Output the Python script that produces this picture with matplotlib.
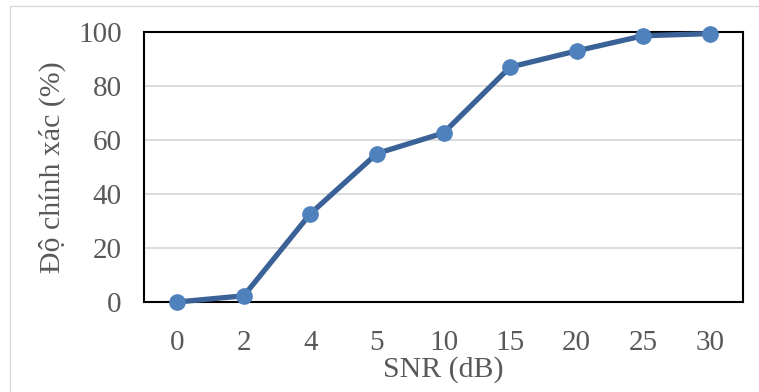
import matplotlib.pyplot as plt
from matplotlib.patches import Rectangle

# SNR levels (dB) and recognition accuracy (%)
snr_labels = ['0', '2', '4', '5', '10', '15', '20', '25', '30']
accuracy = [0.0, 2.3, 32.7, 55.0, 62.6, 87.0, 93.0, 98.6, 99.4]
y_ticks = [0, 20, 40, 60, 80, 100]

plt.rcParams['font.family'] = ['Liberation Serif', 'DejaVu Serif']

fig = plt.figure(figsize=(7.59, 3.92), dpi=100)
# light grey frame around the chart area
fig.patches.append(Rectangle((10 / 759, -0.1), 1.2, (392 - 6) / 392 + 0.1,
                             transform=fig.transFigure, fill=False,
                             edgecolor='#d9d9d9', linewidth=1.0))

ax = fig.add_axes([144 / 759, 1 - 302 / 392, 599 / 759, 270 / 392])
x = list(range(len(snr_labels)))
ax.plot(x, accuracy, color='#3a6296', linewidth=3.8, marker='o',
        markersize=11, markerfacecolor='#4f81bd', markeredgecolor='#4f81bd',
        solid_capstyle='round', zorder=3, clip_on=False)

ax.set_xlim(-0.5, len(snr_labels) - 0.5)
ax.set_ylim(0, 100)
ax.set_xticks(x)
ax.set_xticklabels(snr_labels)
ax.set_yticks(y_ticks)
ax.yaxis.grid(True, color='#d9d9d9', linewidth=1.3)
ax.set_axisbelow(True)
ax.tick_params(length=0, labelsize=21, labelcolor='#595959')
ax.tick_params(axis='y', pad=16)
ax.tick_params(axis='x', pad=20)

for s in ax.spines.values():
    s.set_color('black')
    s.set_linewidth(1.5)

ax.set_xlabel('SNR (dB)', fontsize=21.5, color='#595959', labelpad=0)
ax.set_ylabel('Độ chính xác (%)', fontsize=21.5, color='#595959', labelpad=9)

fig.savefig('out.png', dpi=100)
